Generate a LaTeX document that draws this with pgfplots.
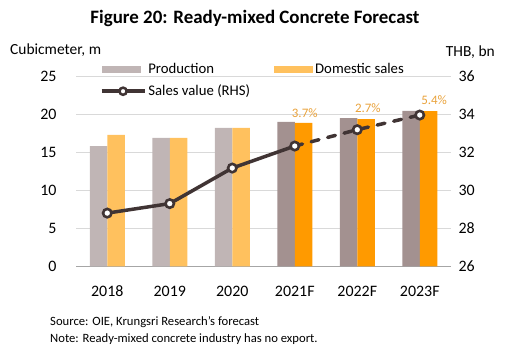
\documentclass[border=0pt]{standalone}
\usepackage{fontspec}
\setmainfont{Carlito}
\usepackage{pgfplots}
\pgfplotsset{compat=1.18}
\definecolor{prodL}{HTML}{C0B5B5}
\definecolor{prodD}{HTML}{A39190}
\definecolor{domL}{HTML}{FFC15E}
\definecolor{domD}{HTML}{FF9A00}
\definecolor{lineC}{HTML}{403434}
\definecolor{pctC}{HTML}{E9A23B}
\definecolor{gridC}{HTML}{D9D9D9}
\definecolor{baseC}{HTML}{A6A6A6}
\begin{document}
\begin{tikzpicture}[x=1bp,y=1bp]
\useasboundingbox (0,0) rectangle (510,354);
\node[font=\fontsize{19}{22}\selectfont\bfseries] at (255,336) {Figure 20: Ready-mixed Concrete Forecast};
\node[anchor=west, inner sep=0pt, font=\fontsize{15.5}{17}\selectfont] at (10,304) {Cubicmeter, m};
\node[anchor=east, inner sep=0pt, font=\fontsize{15.5}{17}\selectfont] at (495,302) {THB, bn};
\node[anchor=west, inner sep=0pt, font=\fontsize{12.7}{14}\selectfont] at (50,32) {Source: OIE, Krungsri Research’s forecast};
\node[anchor=west, inner sep=0pt, font=\fontsize{12.7}{14}\selectfont] at (50,15) {Note: Ready-mixed concrete industry has no export.};
\begin{axis}[
  at={(76bp,87.7bp)}, anchor=south west,
  scale only axis, width=375bp, height=190bp,
  xmin=-0.5, xmax=5.5, ymin=0, ymax=25,
  xtick={0,1,2,3,4,5},
  xticklabels={2018,2019,2020,2021F,2022F,2023F},
  ytick={0,5,10,15,20,25},
  axis x line*=bottom, axis y line*=left,
  y axis line style={draw=none},
  x axis line style={baseC, line width=0.8bp, -},
  major tick length=0pt,
  ymajorgrids, grid style={gridC, line width=0.8bp},
  tick label style={font=\fontsize{16}{18}\selectfont, text=black},
  /pgf/number format/assume math mode=true,
  yticklabel style={xshift=-16bp},
  xticklabel style={yshift=-16bp},
  clip=false,
  legend columns=2,
  legend cell align=left,
  legend style={draw=none, fill=none, at={(0.055,1.09)}, anchor=north west,
    font=\fontsize{14.8}{17}\selectfont, row sep=6bp,
    /tikz/every even column/.append style={column sep=22bp}},
]
\addplot[ybar, bar width=17.5bp, bar shift=-8.75bp, fill=prodL, draw=none,
  legend image code/.code={\fill[prodL] (0bp,-3.5bp) rectangle (39bp,3.5bp);}]
  coordinates {(0,15.8) (1,16.9) (2,18.2)};
\addlegendentry{Production}
\addplot[ybar, bar width=17.5bp, bar shift=-8.75bp, fill=prodD, draw=none, forget plot]
  coordinates {(3,19.0) (4,19.5) (5,20.45)};
\addplot[ybar, bar width=17.5bp, bar shift=8.75bp, fill=domL, draw=none,
  legend image code/.code={\fill[domL] (0bp,-3.5bp) rectangle (39bp,3.5bp);}]
  coordinates {(0,17.3) (1,16.9) (2,18.2)};
\addlegendentry{Domestic sales}
\addplot[ybar, bar width=17.5bp, bar shift=8.75bp, fill=domD, draw=none, forget plot]
  coordinates {(3,18.87) (4,19.38) (5,20.43)};
\addlegendimage{legend image code/.code={
  \draw[lineC, line width=3.5bp] (0bp,0bp) -- (43bp,0bp);
  \draw[lineC, line width=2.5bp, fill=white] (21.5bp,0bp) circle (3.6bp);}}
\addlegendentry{Sales value (RHS)}
\node[font=\fontsize{13}{15}\selectfont, text=pctC] at (axis cs:3.16,20.2) {3.7\%};
\node[font=\fontsize{13}{15}\selectfont, text=pctC] at (axis cs:4.17,20.8) {2.7\%};
\node[font=\fontsize{13}{15}\selectfont, text=pctC] at (axis cs:5.23,21.9) {5.4\%};
\end{axis}
\begin{axis}[
  at={(76bp,87.7bp)}, anchor=south west,
  scale only axis, width=375bp, height=190bp,
  xmin=-0.5, xmax=5.5, ymin=26, ymax=36,
  ytick={26,28,30,32,34,36},
  axis x line=none, axis y line*=right,
  y axis line style={draw=none},
  major tick length=0pt,
  tick label style={font=\fontsize{16}{18}\selectfont, text=black},
  /pgf/number format/assume math mode=true,
  yticklabel style={xshift=4bp},
  clip=false,
]
\addplot[lineC, line width=3.5bp, line join=round, no marks]
  coordinates {(0,28.8) (1,29.3) (2,31.17) (3,32.33)};
\addplot[lineC, line width=3.5bp, no marks, line cap=round, dash pattern=on 8bp off 9bp]
  coordinates {(3,32.33) (4,33.19) (5,33.96)};
\addplot[only marks, mark=*, mark size=4.2bp, mark options={fill=white, draw=lineC, line width=2.6bp}]
  coordinates {(0,28.8) (1,29.3) (2,31.17) (3,32.33) (4,33.19) (5,33.96)};
\end{axis}
\end{tikzpicture}
\end{document}
